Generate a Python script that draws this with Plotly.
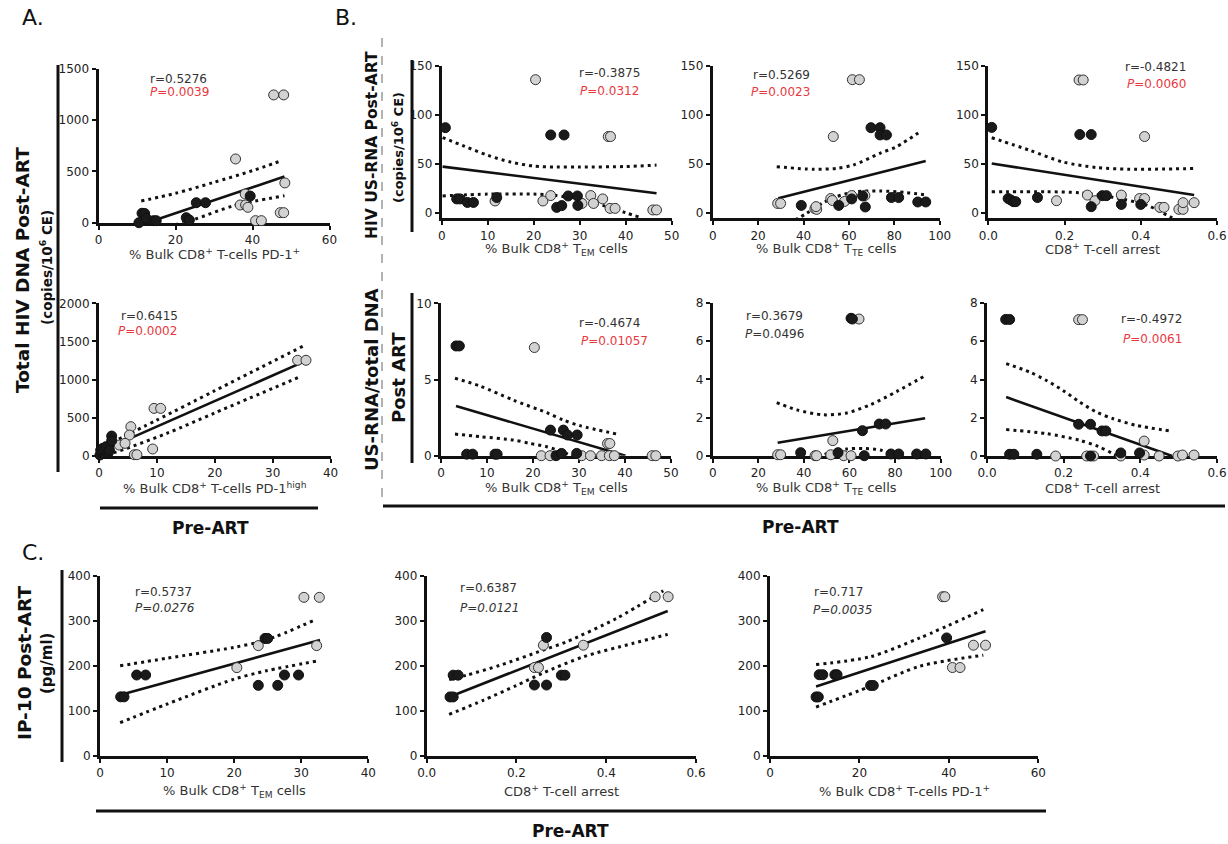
import plotly.graph_objects as go

W, H = 1228, 844
FONT = "DejaVu Sans"
RED = "#e8383d"
TXT = "#333333"

# ---------------- data ----------------
# Panel A1: Total HIV DNA vs % PD-1+
A1_BX = [10.5, 11.3, 12.0, 12.4, 14.3, 15.0, 22.8, 23.6, 25.4, 27.8, 39.4]
A1_BY = [0, 92, 90, 42, 20, 20, 49, 26, 195, 195, 260]
A1_GX = [45.5, 48.1, 35.6, 48.4, 38.1, 36.8, 38.2, 38.8, 40.8, 42.3, 47.2, 48.1]
A1_GY = [1247, 1247, 622, 388, 280, 173, 173, 150, 20, 20, 98, 98]
A1_FX = [13.4, 48.3]
A1_FY = [10, 450]
A1_UX = [11.1, 20, 29.7, 40, 47.4]
A1_UY = [212, 287, 391, 508, 603]
A1_LX = [11.1, 24.9, 34.9, 48.3]
A1_LY = [-105, 33, 163, 264]

# Panel A2: Total HIV DNA vs % PD-1 high
A2_BX = [0.17, 0.46, 0.75, 1.04, 1.32, 1.6, 0.29, 0.63, 1.2, 1.8, 2.19, 2.19]
A2_BY = [9, 39, 53, 31, 66, 39, 74, 96, 118, 74, 258, 197]
A2_GX = [34.3, 35.75, 9.5, 10.65, 5.5, 5.25, 3.5, 4.5, 9.27, 6.1, 6.55]
A2_GY = [1252, 1252, 621, 621, 381, 271, 140, 162, 88, 13, 13]
A2_FX = [0.17, 35.4]
A2_FY = [53, 1234]
A2_UX = [0.17, 10, 20, 35.3]
A2_UY = [96, 468, 853, 1440]
A2_LX = [0.17, 2.5, 11.7, 20, 35]
A2_LY = [10, 39, 293, 561, 1046]

# Panel B1: US-RNA vs % TEM
B1_BX = [0.8, 3.26, 4.0, 5.6, 6.9, 11.96, 23.7, 26.6, 27.5, 29.5, 25.0, 26.1, 29.6]
B1_BY = [87, 14.6, 14.6, 11, 11, 16, 79.6, 79.6, 17.6, 17.6, 6, 7.8, 8]
B1_GX = [20.4, 36.2, 36.7, 11.6, 22.0, 23.7, 30.5, 32.4, 33.0, 35.0, 36.6, 37.7, 45.9, 46.7]
B1_GY = [135.8, 78, 78, 12.5, 12.5, 18, 10, 18, 10, 14.6, 5, 5, 3.4, 3.4]
B1_FX = [0.2, 46.7]
B1_FY = [47.4, 20.3]
B1_UX = [0.2, 5, 10, 15, 20, 25, 30, 40, 46.7]
B1_UY = [77, 68, 59, 52, 48, 47, 47, 47.5, 49]
B1_LX = [0.2, 10, 20, 25, 30, 35, 40, 43]
B1_LY = [17.6, 19.5, 19.5, 18, 14, 8, 0.5, -4]

# Panel B2: US-RNA vs % TTE
B2_BX = [69.7, 73.7, 73.7, 76.5, 39.0, 55.5, 61.2, 66.0, 67.2, 78.7, 81.9, 90.3, 93.8]
B2_BY = [87, 87, 79.6, 79.6, 8, 8, 14.6, 17.6, 6.4, 16, 16, 11.5, 11.5]
B2_GX = [61.5, 64.6, 53.1, 28.6, 29.9, 45.0, 45.8, 45.5, 52.0, 52.7, 58.0, 61.2, 67.0]
B2_GY = [135.8, 135.8, 78, 10, 10, 4.7, 4, 6.8, 15, 13, 12, 18, 18]
B2_FX = [28.9, 93.8]
B2_FY = [15.2, 53.2]
B2_UX = [28.2, 44.3, 54.6, 61.9, 73.7, 81, 92]
B2_UY = [47.4, 44.7, 45.7, 49, 61, 67.7, 84]
B2_LX = [28.2, 40.7, 48.7, 54.6, 63.4, 73.7, 85.4, 93.8]
B2_LY = [-17, -1, 10.8, 17, 22, 22.7, 21, 18.6]

# Panel B3: US-RNA vs arrest
B3_BX = [0.009, 0.24, 0.27, 0.052, 0.059, 0.066, 0.072, 0.129, 0.27, 0.299, 0.31, 0.349, 0.40]
B3_BY = [87.3, 80, 80, 15, 13.5, 11.8, 11.8, 16, 6.7, 17.9, 17.9, 9, 9]
B3_GX = [0.238, 0.249, 0.41, 0.179, 0.26, 0.28, 0.349, 0.397, 0.41, 0.45, 0.461, 0.5, 0.511, 0.511, 0.54]
B3_GY = [135.5, 135.5, 78, 12.8, 18.5, 12.8, 18.5, 15, 15, 6, 6, 4, 4, 10.8, 10.8]
B3_FX = [0.009, 0.54]
B3_FY = [50.6, 18.5]
B3_UX = [0.009, 0.109, 0.197, 0.284, 0.371, 0.54]
B3_UY = [76.8, 64, 52, 46.5, 44.8, 45.5]
B3_LX = [0.009, 0.153, 0.24, 0.327, 0.415, 0.476, 0.5]
B3_LY = [21.9, 21.9, 20.9, 16.2, 8.4, -3.4, -8]

# Panel B4: US-RNA/total DNA vs % TEM
B4_BX = [3.26, 3.99, 5.58, 6.88, 11.74, 12.2, 23.8, 26.6, 27.5, 29.6, 25.0, 26.2, 29.5]
B4_BY = [7.2, 7.2, 0.1, 0.1, 0.1, 0.1, 1.68, 1.68, 1.36, 1.36, 0, 0.15, 0.15]
B4_GX = [20.3, 36.2, 36.7, 21.8, 23.7, 30.6, 32.5, 34.9, 36.6, 37.7, 45.9, 46.7]
B4_GY = [7.1, 0.8, 0.8, 0, 0, 0, 0, 0, 0, 0, 0, 0]
B4_FX = [3.26, 40.1]
B4_FY = [3.26, 0]
B4_UX = [3.04, 8.48, 15.7, 23.0, 26.6, 30.2, 38.55]
B4_UY = [5.08, 4.57, 3.65, 2.82, 2.34, 1.97, 1.40]
B4_LX = [3.04, 8.48, 15.7, 19.3, 23.0, 26.6, 28.0, 29.0]
B4_LY = [1.42, 1.25, 1.03, 0.81, 0.59, 0.22, 0.04, -0.1]

# Panel B5: US-RNA/total DNA vs % TTE
B5_BX = [60.7, 61.3, 38.6, 55.0, 65.7, 66.5, 73.1, 75.9, 78.2, 81.6, 89.5, 93.5]
B5_BY = [7.2, 7.16, 0.16, 0.16, 1.31, 0, 1.66, 1.66, 0.09, 0.09, 0.09, 0.09]
B5_GX = [64.2, 52.7, 28.5, 29.8, 44.9, 45.6, 51.8, 57.5, 60.7]
B5_GY = [7.16, 0.79, 0.05, 0.05, 0, 0, 0.05, 0, 0]
B5_FX = [28.5, 93.2]
B5_FY = [0.68, 1.96]
B5_UX = [28.1, 36.9, 48.6, 58.8, 69, 80.7, 93.2]
B5_UY = [2.78, 2.4, 2.14, 2.24, 2.66, 3.36, 4.19]
B5_LX = [28.1, 36.9, 48.6, 58.8, 66.1, 73.4, 80.7, 93.2]
B5_LY = [-1.4, -0.6, 0.05, 0.35, 0.38, 0.3, 0.03, -0.3]

# Panel B6: US-RNA/total DNA vs arrest
B6_BX = [0.0487, 0.059, 0.059, 0.07, 0.13, 0.239, 0.27, 0.30, 0.31, 0.27, 0.349, 0.398]
B6_BY = [7.14, 7.14, 0.09, 0.09, 0.09, 1.66, 1.66, 1.31, 1.31, 0, 0.16, 0.16]
B6_GX = [0.239, 0.249, 0.41, 0.179, 0.26, 0.278, 0.349, 0.41, 0.449, 0.498, 0.51, 0.54]
B6_GY = [7.13, 7.13, 0.78, 0, 0, 0, 0, 0.05, 0, 0, 0.05, 0.05]
B6_FX = [0.05, 0.483]
B6_FY = [3.08, 0]
B6_UX = [0.05, 0.111, 0.155, 0.198, 0.242, 0.285, 0.329, 0.39, 0.478]
B6_UY = [4.83, 4.39, 3.95, 3.43, 2.82, 2.30, 1.95, 1.60, 1.31]
B6_LX = [0.05, 0.155, 0.242, 0.29, 0.329, 0.36]
B6_LY = [1.38, 1.17, 0.82, 0.50, 0.12, -0.2]

# Panel C1: IP-10 vs % TEM
C1_BX = [3.08, 3.58, 5.47, 6.8, 23.6, 26.5, 24.6, 25.0, 27.5, 29.6]
C1_BY = [131, 131, 179.6, 179.6, 156.6, 156.6, 261, 261, 179.6, 179.6]
C1_GX = [30.4, 32.7, 23.6, 32.3, 20.4]
C1_GY = [352.5, 352.5, 245, 245, 196]
C1_FX = [2.98, 32.8]
C1_FY = [135, 257.5]
C1_UX = [3, 10, 19.9, 24.8, 32]
C1_UY = [200, 217, 241, 257.5, 302]
C1_LX = [3, 10, 19.9, 24.8, 32.5]
C1_LY = [73.5, 115, 170, 189, 211]

# Panel C2: IP-10 vs arrest
C2_BX = [0.052, 0.059, 0.059, 0.07, 0.24, 0.267, 0.267, 0.30, 0.308]
C2_BY = [130.5, 130.5, 179, 179, 157, 157, 263, 179, 179]
C2_GX = [0.509, 0.538, 0.26, 0.349, 0.24, 0.249]
C2_GY = [353.8, 353.8, 245.8, 245.8, 196, 196]
C2_FX = [0.05, 0.537]
C2_FY = [130.5, 322]
C2_UX = [0.05, 0.089, 0.163, 0.26, 0.312, 0.423, 0.527]
C2_UY = [169, 179, 201, 235, 253.6, 305.6, 367]
C2_LX = [0.05, 0.126, 0.2, 0.26, 0.349, 0.46, 0.537]
C2_LY = [91.6, 123, 156, 184, 220, 250, 270]

# Panel C3: IP-10 vs % PD-1+
C3_BX = [10.3, 10.8, 11.0, 11.8, 14.5, 15.0, 22.5, 23.1, 39.5]
C3_BY = [130.5, 130.5, 180, 180, 180, 180, 156, 156, 262]
C3_GX = [38.6, 39.1, 40.8, 42.5, 45.5, 48.2]
C3_GY = [353.8, 353.8, 196, 196, 245.8, 245.8]
C3_FX = [10.3, 48.2]
C3_FY = [154, 277]
C3_UX = [10.3, 22.4, 33.5, 47.7]
C3_UY = [202.6, 220, 262, 325]
C3_LX = [10.3, 22.4, 33.5, 47.7]
C3_LY = [108, 154, 199, 223.5]

# statistics text
R_TEXT = ["0.5276", "0.6415", "-0.3875", "0.5269", "-0.4821", "-0.4674", "0.3679", "-0.4972", "0.5737", "0.6387", "0.717"]
P_TEXT = ["0.0039", "0.0002", "0.0312", "0.0023", "0.0060", "0.01057", "0.0496", "0.0061", "0.0276", "0.0121", "0.0035"]

LBL_PD1 = "% Bulk CD8<sup>+</sup> T-cells PD-1<sup>+</sup>"
LBL_PD1H = "% Bulk CD8<sup>+</sup> T-cells PD-1<sup>high</sup>"
LBL_TEM = "% Bulk CD8<sup>+</sup> T<sub>EM</sub> cells"
LBL_TTE = "% Bulk CD8<sup>+</sup> T<sub>TE</sub> cells"
LBL_ARR = "CD8<sup>+</sup> T-cell arrest"

# ---------------- panel table (layout geometry in pixels) ----------------
panels = [
    dict(d=(A1_BX, A1_BY, A1_GX, A1_GY, A1_FX, A1_FY, A1_UX, A1_UY, A1_LX, A1_LY),
         box=(98.5, 329.5, 69, 222.7), xr=[0, 60], yr=[0, 1500], xt=[0, 20, 40, 60], yt=[0, 500, 1000, 1500],
         xf=None, lbl=LBL_PD1, ly=254, st=(148, 79, 148, 92), pstyle="red"),
    dict(d=(A2_BX, A2_BY, A2_GX, A2_GY, A2_FX, A2_FY, A2_UX, A2_UY, A2_LX, A2_LY),
         box=(99, 330.6, 303.3, 455.7), xr=[0, 40], yr=[0, 2000], xt=[0, 10, 20, 30, 40], yt=[0, 500, 1000, 1500, 2000],
         xf=None, lbl=LBL_PD1H, ly=488, st=(119, 316, 116, 331), pstyle="red"),
    dict(d=(B1_BX, B1_BY, B1_GX, B1_GY, B1_FX, B1_FY, B1_UX, B1_UY, B1_LX, B1_LY),
         box=(441.7, 671.7, 65.7, 218.2), xr=[0, 50], yr=[-5, 150], xt=[0, 10, 20, 30, 40, 50], yt=[0, 50, 100, 150],
         xf=None, lbl=LBL_TEM, ly=249, st=(577, 73, 578, 91), pstyle="red"),
    dict(d=(B2_BX, B2_BY, B2_GX, B2_GY, B2_FX, B2_FY, B2_UX, B2_UY, B2_LX, B2_LY),
         box=(712.7, 939.8, 65.7, 218.2), xr=[0, 100], yr=[-5, 150], xt=[0, 20, 40, 60, 80, 100], yt=[0, 50, 100, 150],
         xf=None, lbl=LBL_TTE, ly=249, st=(751, 75, 749, 92), pstyle="red"),
    dict(d=(B3_BX, B3_BY, B3_GX, B3_GY, B3_FX, B3_FY, B3_UX, B3_UY, B3_LX, B3_LY),
         box=(988.3, 1217, 65.7, 218.2), xr=[0, 0.6], yr=[-5, 150], xt=[0, 0.2, 0.4, 0.6], yt=[0, 50, 100, 150],
         xf=".1f", lbl=LBL_ARR, ly=249, st=(1123, 67, 1125, 84), pstyle="red"),
    dict(d=(B4_BX, B4_BY, B4_GX, B4_GY, B4_FX, B4_FY, B4_UX, B4_UY, B4_LX, B4_LY),
         box=(441, 671, 303.3, 455.7), xr=[0, 50], yr=[0, 10], xt=[0, 10, 20, 30, 40, 50], yt=[0, 5, 10],
         xf=None, lbl=LBL_TEM, ly=488, st=(577, 323, 579, 341), pstyle="red"),
    dict(d=(B5_BX, B5_BY, B5_GX, B5_GY, B5_FX, B5_FY, B5_UX, B5_UY, B5_LX, B5_LY),
         box=(712.7, 940.6, 303, 455.7), xr=[0, 100], yr=[0, 8], xt=[0, 20, 40, 60, 80, 100], yt=[0, 2, 4, 6, 8],
         xf=None, lbl=LBL_TTE, ly=488, st=(744, 316, 743, 334), pstyle="plain"),
    dict(d=(B6_BX, B6_BY, B6_GX, B6_GY, B6_FX, B6_FY, B6_UX, B6_UY, B6_LX, B6_LY),
         box=(987, 1217, 303, 456), xr=[0, 0.6], yr=[0, 8], xt=[0, 0.2, 0.4, 0.6], yt=[0, 2, 4, 6, 8],
         xf=".1f", lbl=LBL_ARR, ly=488, st=(1119, 319, 1121, 339), pstyle="red"),
    dict(d=(C1_BX, C1_BY, C1_GX, C1_GY, C1_FX, C1_FY, C1_UX, C1_UY, C1_LX, C1_LY),
         box=(100, 368.3, 576, 755.7), xr=[0, 40], yr=[0, 400], xt=[0, 10, 20, 30, 40], yt=[0, 100, 200, 300, 400],
         xf=None, lbl=LBL_TEM, ly=791, st=(133, 592, 133, 608), pstyle="italic"),
    dict(d=(C2_BX, C2_BY, C2_GX, C2_GY, C2_FX, C2_FY, C2_UX, C2_UY, C2_LX, C2_LY),
         box=(426.7, 696, 576, 755.5), xr=[0, 0.6], yr=[0, 400], xt=[0, 0.2, 0.4, 0.6], yt=[0, 100, 200, 300, 400],
         xf=".1f", lbl=LBL_ARR, ly=791, st=(458, 588, 458, 608), pstyle="italic"),
    dict(d=(C3_BX, C3_BY, C3_GX, C3_GY, C3_FX, C3_FY, C3_UX, C3_UY, C3_LX, C3_LY),
         box=(770, 1038.3, 576, 755.5), xr=[0, 60], yr=[0, 400], xt=[0, 20, 40, 60], yt=[0, 100, 200, 300, 400],
         xf=None, lbl=LBL_PD1, ly=791, st=(812, 592, 811, 610), pstyle="italic"),
]


def px(x):
    return x / W


def py(y):
    return 1 - y / H


fig = go.Figure()
layout = dict(width=W, height=H, margin=dict(l=0, r=0, t=0, b=0, pad=0, autoexpand=False),
              paper_bgcolor="white", plot_bgcolor="rgba(0,0,0,0)", showlegend=False,
              font=dict(family=FONT, color=TXT))
annotations = []
shapes = []

for i, p in enumerate(panels):
    n = "" if i == 0 else str(i + 1)
    xa, ya = "x" + n, "y" + n
    bx, by, gx, gy, fx, fy, ux, uy, lx, ly = p["d"]
    x0, x1, yt_, yb = p["box"]
    axcommon = dict(showline=True, linewidth=3, linecolor="#111", ticks="outside", ticklen=4,
                    tickwidth=2, tickcolor="#111", showgrid=False, zeroline=False, automargin=False,
                    tickfont=dict(family=FONT, size=12, color="#222"), layer="below traces")
    layout["xaxis" + n] = dict(axcommon, domain=[px(x0), px(x1)], range=p["xr"], anchor=ya,
                               tickvals=p["xt"], tickformat=p["xf"] if p["xf"] else "")
    layout["yaxis" + n] = dict(axcommon, domain=[py(yb), py(yt_)], range=p["yr"], anchor=xa,
                               tickvals=p["yt"])
    for cx, cy in ((ux, uy), (lx, ly)):
        fig.add_trace(go.Scatter(x=cx, y=cy, mode="lines", xaxis=xa, yaxis=ya,
                                 line=dict(color="#111", width=3, dash="3px,4px", shape="spline",
                                           smoothing=0.8),
                                 hoverinfo="skip"))
    fig.add_trace(go.Scatter(x=fx, y=fy, mode="lines", xaxis=xa, yaxis=ya,
                             line=dict(color="#111", width=2.6), hoverinfo="skip"))
    fig.add_trace(go.Scatter(x=gx, y=gy, mode="markers", xaxis=xa, yaxis=ya, cliponaxis=False,
                             marker=dict(size=10, color="#d2d2d2", line=dict(color="#333", width=1))))
    fig.add_trace(go.Scatter(x=bx, y=by, mode="markers", xaxis=xa, yaxis=ya, cliponaxis=False,
                             marker=dict(size=10, color="#1a1a1a", line=dict(color="#111", width=1))))
    # x-axis label
    annotations.append(dict(x=px((x0 + x1) / 2), y=py(p["ly"]), xref="paper", yref="paper",
                            text=p["lbl"], showarrow=False, xanchor="center", yanchor="middle",
                            font=dict(family=FONT, size=13, color=TXT)))
    # statistics
    rx, ry, ppx, ppy = p["st"]
    annotations.append(dict(x=px(rx), y=py(ry), xref="paper", yref="paper", text="r=" + R_TEXT[i],
                            showarrow=False, xanchor="left", yanchor="middle",
                            font=dict(family=FONT, size=12, color=TXT)))
    if p["pstyle"] == "red":
        ptxt, pcol = "<i>P</i>=" + P_TEXT[i], RED
    elif p["pstyle"] == "plain":
        ptxt, pcol = "<i>P</i>=" + P_TEXT[i], TXT
    else:
        ptxt, pcol = "<i>P=" + P_TEXT[i] + "</i>", TXT
    annotations.append(dict(x=px(ppx), y=py(ppy), xref="paper", yref="paper", text=ptxt,
                            showarrow=False, xanchor="left", yanchor="middle",
                            font=dict(family=FONT, size=12, color=pcol)))


def add_text(x, y, text, size, bold=False, angle=0, color="#111"):
    t = "<b>" + text + "</b>" if bold else text
    annotations.append(dict(x=px(x), y=py(y), xref="paper", yref="paper", text=t, showarrow=False,
                            xanchor="center", yanchor="middle", textangle=angle,
                            font=dict(family=FONT, size=size, color=color)))


def add_line(x0, y0, x1, y1, width=3, dash=None, color="#111"):
    ln = dict(color=color, width=width)
    if dash:
        ln["dash"] = dash
    shapes.append(dict(type="line", xref="paper", yref="paper", x0=px(x0), y0=py(y0),
                       x1=px(x1), y1=py(y1), line=ln))


# panel letters
add_text(33, 17, "A.", 22)
add_text(346, 17, "B.", 22)
add_text(33, 552, "C.", 22)

# y titles
add_text(23, 270, "Total HIV DNA Post-ART", 18.5, bold=True, angle=-90)
add_text(46, 268, "(copies/10<sup>6</sup> CE)", 13.5, bold=True, angle=-90)
add_text(372, 145, "HIV US-RNA Post-ART", 15.5, bold=True, angle=-90)
add_text(398, 148, "(copies/10<sup>6</sup> CE)", 13, bold=True, angle=-90)
add_text(371, 380, "US-RNA/total DNA", 18, bold=True, angle=-90)
add_text(398, 378, "Post ART", 18, bold=True, angle=-90)
add_text(24, 663, "IP-10 Post-ART", 18.5, bold=True, angle=-90)
add_text(47, 664, "(pg/ml)", 15, bold=True, angle=-90)

# group bars
add_line(58, 65, 58, 472)
add_line(412, 60, 412, 232)
add_line(412, 293, 412, 463)
add_line(62, 570, 62, 762)
add_line(100, 508, 318, 508)
add_line(383, 506, 1225, 506)
add_line(96, 811, 1046, 811)
add_line(382, 38, 382, 500, width=1, dash="dash", color="#666")

add_text(210, 528, "Pre-ART", 17, bold=True)
add_text(800, 527, "Pre-ART", 17, bold=True)
add_text(570, 831, "Pre-ART", 17, bold=True)

layout["annotations"] = annotations
layout["shapes"] = shapes
fig.update_layout(**layout)
fig.write_html("out.html", config={"displayModeBar": False, "staticPlot": True},
               post_script="document.body.style.margin='0px';document.body.style.padding='0px';"
                           "document.body.style.overflow='hidden';")
